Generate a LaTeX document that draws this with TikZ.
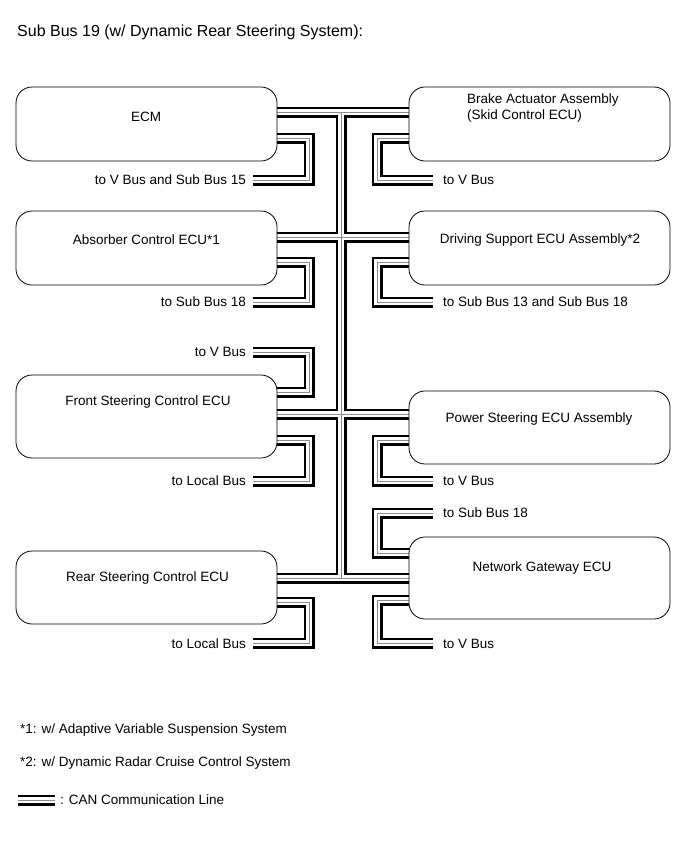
\documentclass[tikz,border=0pt]{standalone}
\usepackage{fontspec}
\setmainfont{Liberation Sans}
\usetikzlibrary{backgrounds}
\tikzset{
  ecubox/.style={draw, line width=0.8pt, rounded corners=16pt, minimum width=261pt, inner sep=0pt},
  lbl/.style={font=\fontsize{13.5}{16}\selectfont, inner sep=0pt},
  wireblack/.style={line width=11pt, black},
  wirewhite/.style={line width=6pt, white},
  wiregray/.style={line width=0.9pt, black!45},
}
\newcommand\canwires[1]{%
  % main bus
  \draw[#1] (ecm.east |- 0,112) -- (brake.west |- 0,112);
  \draw[#1] (341,112) -- (341,578);
  \draw[#1] (abs.east |- 0,237) -- (drv.west |- 0,237);
  \draw[#1] (fsc.east |- 0,414) -- (psc.west |- 0,414);
  \draw[#1] (rsc.east |- 0,578) -- (ngw.west |- 0,578);
  % left stubs
  \draw[#1] (ecm.east |- 0,138) -- (309,138) -- (309,180) -- (s1);
  \draw[#1] (abs.east |- 0,262) -- (309,262) -- (309,302) -- (s2);
  \draw[#1] (s3) -- (309,352) -- (309,392) -- (fsc.east |- 0,392);
  \draw[#1] (fsc.east |- 0,440) -- (309,440) -- (309,481) -- (s4);
  \draw[#1] (rsc.east |- 0,602) -- (309,602) -- (309,643) -- (s5);
  % right stubs
  \draw[#1] (brake.west |- 0,138) -- (377,138) -- (377,180) -- (r1);
  \draw[#1] (drv.west |- 0,262) -- (377,262) -- (377,302) -- (r2);
  \draw[#1] (psc.west |- 0,440) -- (377,440) -- (377,481) -- (r3);
  \draw[#1] (r4) -- (377,513) -- (377,553) -- (ngw.west |- 0,553);
  \draw[#1] (ngw.west |- 0,600) -- (377,600) -- (377,643) -- (r5);
  % legend
  \draw[#1] (lg1) -- (lg2);
}
\begin{document}
\begin{tikzpicture}[x=1pt,y=-1pt]
\useasboundingbox (0,0) rectangle (690,854);

\node[lbl, anchor=west, font=\fontsize{16}{19}\selectfont] (title) at (17,32) {Sub Bus 19 (w/ Dynamic Rear Steering System):};

% ECU boxes
\node[ecubox, minimum height=74pt] (ecm)   at (146.5,124) {};
\node[ecubox, minimum height=74pt] (brake) at (539.5,124) {};
\node[ecubox, minimum height=74pt] (abs)   at (146.5,248) {};
\node[ecubox, minimum height=74pt] (drv)   at (539.5,248) {};
\node[ecubox, minimum height=83pt] (fsc)   at (146.5,416.5) {};
\node[ecubox, minimum height=73pt] (psc)   at (539.5,427.5) {};
\node[ecubox, minimum height=73pt] (rsc)   at (146.5,587.5) {};
\node[ecubox, minimum height=82pt] (ngw)   at (539.5,578) {};

% box texts
\node[lbl] (tecm) at (146,117) {ECM};
\node[lbl, anchor=west, align=left] (tbrake) at (467,108) {Brake Actuator Assembly\\(Skid Control ECU)};
\node[lbl] (tabs) at (146.5,240) {Absorber Control ECU*1};
\node[lbl] (tdrv) at (540,240) {Driving Support ECU Assembly*2};
\node[lbl] (tfsc) at (148,402) {Front Steering Control ECU};
\node[lbl] (tpsc) at (539,419) {Power Steering ECU Assembly};
\node[lbl] (trsc) at (147.5,578) {Rear Steering Control ECU};
\node[lbl] (tngw) at (542,568) {Network Gateway ECU};

% stub labels
\node[lbl, anchor=east] (l1) at (246,180) {to V Bus and Sub Bus 15};
\node[lbl, anchor=east] (l2) at (246,302) {to Sub Bus 18};
\node[lbl, anchor=east] (l3) at (246,352) {to V Bus};
\node[lbl, anchor=east] (l4) at (246,481) {to Local Bus};
\node[lbl, anchor=east] (l5) at (246,644) {to Local Bus};
\node[lbl, anchor=west] (m1) at (443,180) {to V Bus};
\node[lbl, anchor=west] (m2) at (443,302) {to Sub Bus 13 and Sub Bus 18};
\node[lbl, anchor=west] (m3) at (443,481) {to V Bus};
\node[lbl, anchor=west] (m4) at (443,513) {to Sub Bus 18};
\node[lbl, anchor=west] (m5) at (443,644) {to V Bus};

\coordinate (s1) at (253,180);
\coordinate (s2) at (253,302);
\coordinate (s3) at (253,352);
\coordinate (s4) at (253,481);
\coordinate (s5) at (253,643);
\coordinate (r1) at (433,180);
\coordinate (r2) at (433,302);
\coordinate (r3) at (433,481);
\coordinate (r4) at (433,513);
\coordinate (r5) at (433,643);
\coordinate (lg1) at (18,800);
\coordinate (lg2) at (55,800);

% footnotes and legend
\node[lbl, anchor=west] (f1) at (20,730) {*1: w/ Adaptive Variable Suspension System};
\node[lbl, anchor=west] (f2) at (20,763) {*2: w/ Dynamic Radar Cruise Control System};
\node[lbl, anchor=west] (f3) at (60,800) {: CAN Communication Line};

\begin{pgfonlayer}{background}
  \canwires{wireblack}
  \canwires{wirewhite}
  \canwires{wiregray}
\end{pgfonlayer}
\end{tikzpicture}
\end{document}
